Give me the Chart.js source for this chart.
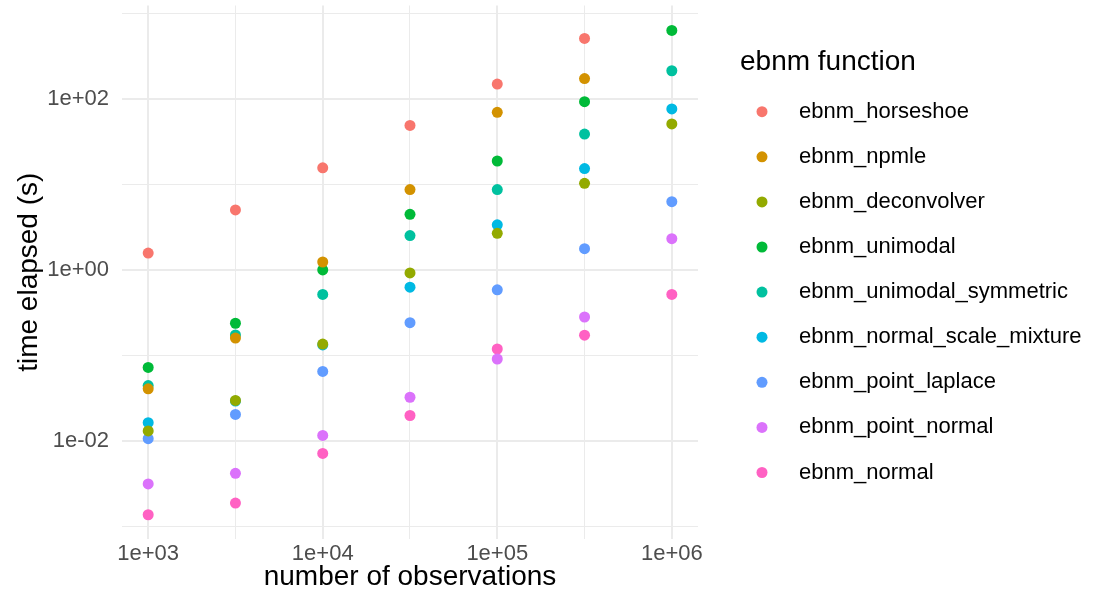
<!DOCTYPE html>
<html>
<head>
<meta charset="utf-8">
<script src="https://cdn.jsdelivr.net/npm/chart.js@4/dist/chart.umd.min.js"></script>
<style>
  body { margin: 0; background: #fff; }
  #wrap { width: 1096px; height: 609px; position: relative; }
</style>
</head>
<body>
<div id="wrap"><canvas id="timeChart"></canvas></div>
<script>
// number of observations (x) and seconds elapsed per ebnm function (y)
var nObs = [1000, 3162, 10000, 31623, 100000, 316228, 1000000];

var horseshoe    = [1.59, 5.08, 15.8, 49.5, 151, 516, null];
var npmle        = [0.041, 0.161, 1.25, 8.81, 70.6, 175, null];
var deconvolver  = [0.0132, 0.030, 0.137, 0.931, 2.71, 10.4, 51.6];
var unimodal     = [0.0731, 0.240, 1.01, 4.52, 19.0, 94.0, 640];
var unimodalSym  = [0.0448, 0.175, 0.521, 2.55, 8.81, 39.2, 216];
var scaleMixture = [0.0165, 0.0295, 0.134, 0.634, 3.40, 15.5, 77.2];
var pointLaplace = [0.0107, 0.0206, 0.0656, 0.244, 0.590, 1.79, 6.34];
var pointNormal  = [0.00316, 0.00421, 0.0117, 0.0327, 0.0916, 0.284, 2.34];
var normal       = [0.00138, 0.00189, 0.00719, 0.0200, 0.120, 0.174, 0.521];

var methodNames = ["ebnm_horseshoe", "ebnm_npmle", "ebnm_deconvolver", "ebnm_unimodal",
  "ebnm_unimodal_symmetric", "ebnm_normal_scale_mixture", "ebnm_point_laplace",
  "ebnm_point_normal", "ebnm_normal"];
var methodValues = [horseshoe, npmle, deconvolver, unimodal, unimodalSym,
  scaleMixture, pointLaplace, pointNormal, normal];
var methodColors = ["#F8766D", "#D39200", "#93AA00", "#00BA38", "#00C19F",
  "#00B9E3", "#619CFF", "#DB72FB", "#FF61C3"];

var xTicks = [1e3, Math.pow(10, 3.5), 1e4, Math.pow(10, 4.5), 1e5, Math.pow(10, 5.5), 1e6];
var yTicks = [1e-3, 1e-2, 1e-1, 1, 10, 100, 1000];

var fontFamily = "'Liberation Sans', Arial, Helvetica, sans-serif";

function isPow10(v) {
  var e = Math.log10(v);
  return Math.abs(e - Math.round(e)) < 1e-6;
}

// y labels only every second decade (1e-02, 1e+00, 1e+02)
function isYMajor(v) {
  return isPow10(v) && Math.abs(Math.round(Math.log10(v))) % 2 === 0;
}

function sciLabel(v) {
  var e = Math.round(Math.log10(v));
  return "1e" + (e < 0 ? "-" : "+") + String(Math.abs(e)).padStart(2, "0");
}

var datasets = methodNames.map(function (name, k) {
  var pts = [];
  nObs.forEach(function (n, i) {
    if (methodValues[k][i] !== null) pts.push({ x: n, y: methodValues[k][i] });
  });
  return {
    label: name,
    data: pts,
    backgroundColor: methodColors[k],
    borderWidth: 0,
    pointRadius: 5.5,
    pointHoverRadius: 5.5
  };
});

// legend drawn by hand so it sits where ggplot puts it
var sideLegend = {
  id: "sideLegend",
  afterDraw: function (chart) {
    var ctx = chart.ctx;
    ctx.save();
    ctx.fillStyle = "#000";
    ctx.font = "28px " + fontFamily;
    ctx.textAlign = "left";
    ctx.textBaseline = "middle";
    ctx.fillText("ebnm function", 740, 62);
    ctx.font = "22px " + fontFamily;
    chart.data.datasets.forEach(function (ds, i) {
      var y = 111.7 + 45.1 * i;
      ctx.beginPath();
      ctx.arc(762, y, 5.5, 0, Math.PI * 2);
      ctx.fillStyle = ds.backgroundColor;
      ctx.fill();
      ctx.fillStyle = "#000";
      ctx.fillText(ds.label, 799, y);
    });
    ctx.restore();
  }
};

var timeChart = new Chart(document.getElementById("timeChart"), {
  type: "scatter",
  data: { datasets: datasets },
  plugins: [sideLegend],
  options: {
    responsive: true,
    maintainAspectRatio: false,
    animation: false,
    layout: { padding: { top: 3, right: 398, left: 0, bottom: 0 } },
    plugins: {
      legend: { display: false },
      tooltip: { enabled: false }
    },
    scales: {
      x: {
        type: "logarithmic",
        min: Math.pow(10, 2.85),
        max: Math.pow(10, 6.15),
        afterBuildTicks: function (axis) {
          axis.ticks = xTicks.map(function (v) { return { value: v }; });
        },
        afterFit: function (axis) {
          axis.height = 70;
          axis.paddingLeft = 0;
          axis.paddingRight = 0;
        },
        border: { display: false },
        grid: {
          color: "#EBEBEB",
          drawTicks: false,
          lineWidth: function (c) { return c.tick && isPow10(c.tick.value) ? 2 : 1; }
        },
        ticks: {
          autoSkip: false,
          maxRotation: 0,
          padding: 2,
          color: "#4D4D4D",
          font: { size: 22, family: fontFamily },
          callback: function (v) { return isPow10(v) ? sciLabel(v) : ""; }
        },
        title: {
          display: true,
          text: "number of observations",
          color: "#000",
          font: { size: 28, family: fontFamily },
          padding: { top: 0, bottom: 15 }
        }
      },
      y: {
        type: "logarithmic",
        min: Math.pow(10, -3.144),
        max: Math.pow(10, 3.098),
        afterBuildTicks: function (axis) {
          axis.ticks = yTicks.map(function (v) { return { value: v }; });
        },
        afterFit: function (axis) {
          axis.width = 122;
          axis.paddingTop = 0;
          axis.paddingBottom = 0;
        },
        border: { display: false },
        grid: {
          color: "#EBEBEB",
          drawTicks: false,
          lineWidth: function (c) { return c.tick && isYMajor(c.tick.value) ? 2 : 1; }
        },
        ticks: {
          autoSkip: false,
          padding: 13,
          color: "#4D4D4D",
          font: { size: 22, family: fontFamily },
          callback: function (v) { return isYMajor(v) ? sciLabel(v) : ""; }
        },
        title: {
          display: true,
          text: "time elapsed (s)",
          color: "#000",
          font: { size: 28, family: fontFamily },
          padding: { top: 12, bottom: 0 }
        }
      }
    }
  }
});
</script>
</body>
</html>
